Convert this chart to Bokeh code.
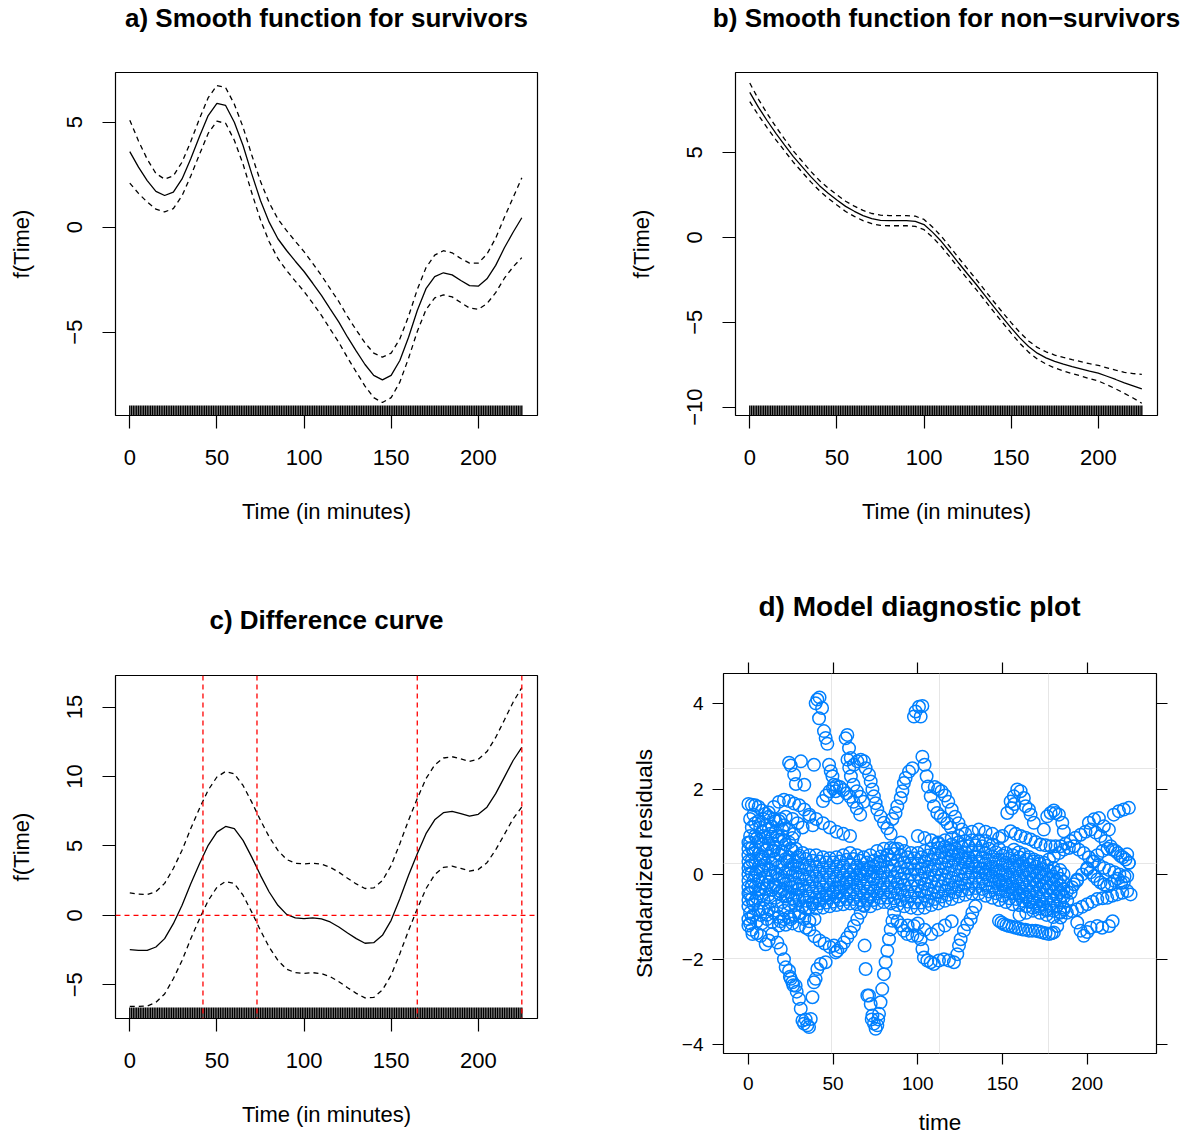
from bokeh.plotting import figure
from bokeh.layouts import column, row
from bokeh.models import Range1d, FixedTicker, LinearAxis, Span
from bokeh.embed import file_html
from bokeh.resources import INLINE

FONT = "Liberation Sans"

# ---------------- data: smooth functions (a, b, c) ----------------
time_grid = [0, 5, 10, 15, 20, 25, 30, 35, 40, 45, 50, 55, 60, 65, 70, 75, 80, 85, 90, 95,
             100, 105, 110, 115, 120, 125, 130, 135, 140, 145, 150, 155, 160, 165, 170, 175,
             180, 185, 190, 195, 200, 205, 210, 215, 220, 225]

surv_fit = [3.60, 2.86, 2.22, 1.71, 1.51, 1.67, 2.30, 3.26, 4.32, 5.32,
            5.90, 5.80, 5.00, 3.89, 2.54, 1.27, 0.24, -0.55, -1.11, -1.62,
            -2.11, -2.67, -3.25, -3.89, -4.52, -5.24, -5.90, -6.54, -7.06, -7.27,
            -7.06, -6.35, -5.24, -3.97, -2.93, -2.35, -2.17, -2.27, -2.54, -2.78,
            -2.81, -2.46, -1.82, -0.98, -0.24, 0.45]
surv_band = [1.50, 1.25, 1.02, 0.85, 0.78, 0.78, 0.80, 0.82, 0.85, 0.85,
             0.85, 0.85, 0.86, 0.88, 0.90, 0.92, 0.93, 0.94, 0.95, 0.95,
             0.95, 0.95, 0.95, 0.96, 0.97, 0.98, 1.00, 1.03, 1.06, 1.08,
             1.06, 1.03, 1.00, 1.00, 1.00, 1.02, 1.05, 1.05, 1.05, 1.07,
             1.10, 1.18, 1.30, 1.45, 1.65, 1.90]

nonsurv_fit = [8.53, 7.65, 6.86, 6.12, 5.43, 4.75, 4.16, 3.57, 3.04, 2.59,
               2.20, 1.82, 1.53, 1.28, 1.10, 1.00, 0.98, 0.98, 0.98, 0.94,
               0.75, 0.29, -0.25, -0.88, -1.53, -2.16, -2.78, -3.43, -4.08, -4.71,
               -5.33, -5.92, -6.43, -6.82, -7.10, -7.31, -7.47, -7.61, -7.74, -7.88,
               -8.00, -8.18, -8.37, -8.57, -8.74, -8.92]
nonsurv_band = [0.55, 0.47, 0.42, 0.38, 0.35, 0.33, 0.32, 0.31, 0.30, 0.30,
                0.30, 0.30, 0.30, 0.30, 0.30, 0.30, 0.30, 0.30, 0.30, 0.30,
                0.30, 0.30, 0.30, 0.30, 0.30, 0.30, 0.30, 0.30, 0.30, 0.30,
                0.31, 0.32, 0.33, 0.34, 0.36, 0.38, 0.40, 0.41, 0.42, 0.44,
                0.46, 0.50, 0.55, 0.62, 0.72, 0.85]

diff_fit = [-2.47, -2.52, -2.52, -2.28, -1.68, -0.60, 0.72, 2.28, 3.72, 5.04,
            5.99, 6.40, 6.24, 5.40, 4.19, 2.88, 1.68, 0.72, 0.07, -0.19,
            -0.24, -0.19, -0.26, -0.48, -0.84, -1.27, -1.68, -2.01, -1.97, -1.44,
            -0.36, 1.20, 2.88, 4.44, 5.88, 6.88, 7.39, 7.48, 7.32, 7.14,
            7.27, 7.79, 8.76, 9.95, 11.15, 12.10]
diff_band = [4.08, 4.04, 4.01, 3.99, 3.98, 3.97, 3.97, 3.97, 3.98, 3.98,
             3.97, 3.96, 3.95, 3.95, 3.96, 3.97, 3.97, 3.96, 3.95, 3.94,
             3.94, 3.94, 3.94, 3.94, 3.94, 3.94, 3.94, 3.94, 3.94, 3.94,
             3.95, 3.96, 3.97, 3.97, 3.96, 3.95, 3.94, 3.94, 3.94, 3.95,
             3.97, 4.00, 4.05, 4.12, 4.20, 4.30]

diff_sig_bounds = [42, 73, 165, 225]
diff_zero = [0]

rug_times = [0, 1, 2, 3, 4, 5, 6, 7, 8, 9, 10, 11, 12, 13, 14, 15, 16, 17, 18, 19,
             20, 21, 22, 23, 24, 25, 26, 27, 28, 29, 30, 31, 32, 33, 34, 35, 36, 37, 38, 39,
             40, 41, 42, 43, 44, 45, 46, 47, 48, 49, 50, 51, 52, 53, 54, 55, 56, 57, 58, 59,
             60, 61, 62, 63, 64, 65, 66, 67, 68, 69, 70, 71, 72, 73, 74, 75, 76, 77, 78, 79,
             80, 81, 82, 83, 84, 85, 86, 87, 88, 89, 90, 91, 92, 93, 94, 95, 96, 97, 98, 99,
             100, 101, 102, 103, 104, 105, 106, 107, 108, 109, 110, 111, 112, 113, 114, 115,
             116, 117, 118, 119, 120, 121, 122, 123, 124, 125, 126, 127, 128, 129, 130, 131,
             132, 133, 134, 135, 136, 137, 138, 139, 140, 141, 142, 143, 144, 145, 146, 147,
             148, 149, 150, 151, 152, 153, 154, 155, 156, 157, 158, 159, 160, 161, 162, 163,
             164, 165, 166, 167, 168, 169, 170, 171, 172, 173, 174, 175, 176, 177, 178, 179,
             180, 181, 182, 183, 184, 185, 186, 187, 188, 189, 190, 191, 192, 193, 194, 195,
             196, 197, 198, 199, 200, 201, 202, 203, 204, 205, 206, 207, 208, 209, 210, 211,
             212, 213, 214, 215, 216, 217, 218, 219, 220, 221, 222, 223, 224, 225]

time_ticks = [0, 50, 100, 150, 200]
surv_yticks = [-5, 0, 5]
nonsurv_yticks = [-10, -5, 0, 5]
diff_yticks = [-5, 0, 5, 10, 15]
resid_yticks = [-4, -2, 0, 2, 4]
resid_grid_x = [49, 113, 177]
resid_grid_y = [-1.97, 0.26, 2.49]

# ---------------- data: standardized residuals (d) ----------------
resid_core_time = [0, 4, 8, 12, 16, 20, 24, 28, 32, 36, 40, 44, 48, 52, 56, 60, 64, 68, 72, 76,
                   80, 84, 88, 92, 96, 100, 104, 108, 112, 116, 120, 124, 128, 132, 136, 140,
                   144, 148, 152, 156, 160, 164, 168, 172, 176, 180, 184]
resid_core_time2 = [2, 6, 10, 14, 18, 22, 26, 30, 34, 38, 42, 46, 50, 54, 58, 62, 66, 70, 74, 78,
                    82, 86, 90, 94, 98, 102, 106, 110, 114, 118, 122, 126, 130, 134, 138, 142,
                    146, 150, 154, 158, 162, 166, 170, 174, 178, 182, 186]
resid_core_a = [0.75, 0.90, 1.00, 1.05, 1.00, 0.90, 0.75, 0.60, 0.50, 0.45,
                0.45, 0.40, 0.38, 0.40, 0.45, 0.50, 0.45, 0.40, 0.45, 0.55,
                0.60, 0.62, 0.60, 0.55, 0.50, 0.50, 0.55, 0.60, 0.62, 0.65,
                0.70, 0.75, 0.78, 0.80, 0.80, 0.78, 0.70, 0.60, 0.50, 0.45,
                0.40, 0.35, 0.30, 0.25, 0.20, 0.15, 0.10]
resid_core_b = [0.45, 0.60, 0.70, 0.72, 0.65, 0.55, 0.40, 0.30, 0.25, 0.20,
                0.18, 0.15, 0.15, 0.18, 0.20, 0.22, 0.20, 0.15, 0.15, 0.25,
                0.30, 0.35, 0.32, 0.28, 0.25, 0.25, 0.30, 0.35, 0.38, 0.40,
                0.45, 0.50, 0.52, 0.55, 0.55, 0.50, 0.42, 0.35, 0.28, 0.22,
                0.18, 0.12, 0.08, 0.05, 0.00, -0.05, -0.10]
resid_core_c = [0.15, 0.30, 0.40, 0.42, 0.35, 0.25, 0.12, 0.05, 0.00, -0.05,
                -0.05, -0.08, -0.08, -0.05, -0.02, 0.00, -0.02, -0.05, -0.05, 0.02,
                0.05, 0.08, 0.05, 0.02, 0.00, 0.00, 0.05, 0.10, 0.12, 0.15,
                0.20, 0.25, 0.28, 0.30, 0.30, 0.25, 0.18, 0.10, 0.05, 0.00,
                -0.05, -0.08, -0.12, -0.15, -0.20, -0.22, -0.25]
resid_core_d = [-0.15, 0.00, 0.10, 0.12, 0.05, -0.05, -0.15, -0.20, -0.25, -0.28,
                -0.30, -0.30, -0.32, -0.30, -0.25, -0.22, -0.25, -0.28, -0.30, -0.22,
                -0.20, -0.18, -0.20, -0.25, -0.28, -0.28, -0.22, -0.18, -0.15, -0.12,
                -0.08, -0.02, 0.02, 0.05, 0.05, 0.00, -0.05, -0.12, -0.18, -0.22,
                -0.28, -0.30, -0.32, -0.35, -0.38, -0.40, -0.42]
resid_core_e = [-0.45, -0.30, -0.20, -0.18, -0.25, -0.35, -0.42, -0.48, -0.50, -0.52,
                -0.55, -0.55, -0.55, -0.52, -0.50, -0.45, -0.48, -0.50, -0.52, -0.45,
                -0.42, -0.42, -0.45, -0.50, -0.52, -0.55, -0.50, -0.45, -0.42, -0.38,
                -0.32, -0.28, -0.22, -0.20, -0.20, -0.25, -0.30, -0.35, -0.40, -0.45,
                -0.50, -0.52, -0.55, -0.58, -0.60, -0.62, -0.65]
resid_core_f = [-0.75, -0.62, -0.50, -0.48, -0.55, -0.65, -0.70, -0.72, -0.75, -0.78,
                -0.80, -0.78, -0.75, -0.72, -0.70, -0.68, -0.70, -0.72, -0.75, -0.68,
                -0.65, -0.68, -0.72, -0.75, -0.78, -0.80, -0.78, -0.72, -0.68, -0.62,
                -0.58, -0.52, -0.48, -0.45, -0.45, -0.50, -0.55, -0.60, -0.65, -0.70,
                -0.72, -0.75, -0.78, -0.80, -0.82, -0.85, -0.88]
# runs sampled between the runs above (times in resid_core_time2)
resid_core_ab = [0.62, 0.78, 0.86, 0.88, 0.82, 0.70, 0.56, 0.44, 0.36, 0.32,
                 0.30, 0.28, 0.28, 0.30, 0.34, 0.36, 0.32, 0.28, 0.32, 0.42,
                 0.46, 0.48, 0.44, 0.40, 0.38, 0.40, 0.44, 0.48, 0.52, 0.56,
                 0.60, 0.64, 0.66, 0.68, 0.66, 0.60, 0.52, 0.44, 0.38, 0.32,
                 0.26, 0.22, 0.18, 0.12, 0.08, 0.04, 0.00]
resid_core_bc = [0.32, 0.48, 0.56, 0.55, 0.48, 0.36, 0.24, 0.16, 0.12, 0.08,
                 0.06, 0.04, 0.05, 0.08, 0.10, 0.10, 0.08, 0.05, 0.06, 0.15,
                 0.18, 0.20, 0.17, 0.14, 0.12, 0.14, 0.18, 0.22, 0.26, 0.30,
                 0.34, 0.38, 0.40, 0.42, 0.40, 0.34, 0.28, 0.22, 0.15, 0.10,
                 0.05, 0.01, -0.03, -0.06, -0.10, -0.14, -0.18]
resid_core_cd = [0.02, 0.18, 0.26, 0.25, 0.18, 0.05, -0.02, -0.08, -0.12, -0.16,
                 -0.18, -0.20, -0.18, -0.15, -0.12, -0.12, -0.15, -0.18, -0.12, -0.08,
                 -0.06, -0.06, -0.10, -0.12, -0.14, -0.10, -0.06, -0.02, 0.00, 0.04,
                 0.10, 0.14, 0.16, 0.18, 0.14, 0.10, 0.04, -0.02, -0.08, -0.14,
                 -0.18, -0.20, -0.24, -0.28, -0.30, -0.32, -0.34]
resid_core_de = [-0.28, -0.14, -0.04, -0.04, -0.12, -0.22, -0.30, -0.34, -0.38, -0.40,
                 -0.42, -0.44, -0.42, -0.40, -0.36, -0.35, -0.38, -0.40, -0.38, -0.32,
                 -0.30, -0.32, -0.36, -0.40, -0.42, -0.40, -0.35, -0.30, -0.28, -0.24,
                 -0.18, -0.12, -0.08, -0.08, -0.10, -0.14, -0.20, -0.26, -0.30, -0.36,
                 -0.40, -0.42, -0.45, -0.48, -0.50, -0.52, -0.54]
resid_core_ef = [-0.58, -0.45, -0.34, -0.36, -0.44, -0.52, -0.56, -0.60, -0.62, -0.66,
                 -0.68, -0.66, -0.64, -0.60, -0.58, -0.58, -0.60, -0.62, -0.60, -0.55,
                 -0.54, -0.56, -0.60, -0.64, -0.66, -0.66, -0.62, -0.58, -0.52, -0.48,
                 -0.42, -0.38, -0.34, -0.32, -0.34, -0.40, -0.44, -0.50, -0.56, -0.58,
                 -0.62, -0.65, -0.68, -0.70, -0.72, -0.75, -0.78]

# (time, standardized residual) pairs of the runs outside the central band
resid_runs_left = [
    (0, 1.65), (2, 1.63), (4, 1.62), (6, 1.58), (8, 1.5), (10, 1.42), (3, 1.4), (1, 1.3),
    (6, 1.25), (9, 1.3), (12, 1.35), (15, 1.3), (18, 1.25), (21, 1.15), (24, 1.05), (27, 0.95),
    (12, 1.45), (15, 1.58), (18, 1.7), (21, 1.75), (24, 1.72), (27, 1.66), (30, 1.62),
    (33, 1.52), (36, 1.35), (38, 1.15), (16, 1.25), (19, 1.3), (22, 1.35), (26, 1.3),
    (29, 1.2), (32, 1.1),
    (0, -1.05), (3, -0.95), (6, -0.85), (9, -0.8), (12, -0.82), (15, -0.9), (18, -1.0),
    (21, -1.05), (24, -1.0), (27, -0.95), (30, -0.98), (33, -1.05), (36, -1.1), (39, -1.05),
    (0, 0.6), (0, 0.3), (0, 0.0), (0, -0.3), (0, -0.6), (1, -0.9), (1, -1.15), (2, -1.3),
    (0, -1.2), (2.4, -1.4), (5, -1.38), (7.3, -1.44), (10.2, -1.64), (12, -1.55), (14, -1.4),
    (24, 2.62), (25, 2.55), (27, 2.34), (28, 2.12), (31, 2.65), (33, 2.1), (38.7, 2.57),
    (39.7, 4.01), (40.7, 4.1), (42, 4.15), (43.5, 3.9), (41.7, 3.66), (44.6, 3.36),
    (45.6, 3.2), (46.6, 3.06), (47.6, 2.57), (48.6, 2.42), (49.6, 2.3), (50.5, 2.1),
    (51.5, 1.95), (52.5, 1.8),
    (44, 1.72), (46, 1.85), (48, 1.95), (50, 2.02), (52, 2.08), (54, 2.05), (56, 1.98),
    (58, 1.9), (60, 1.82), (62, 1.7), (64, 1.55), (66, 1.4),
    (36, 1.4), (40, 1.3), (44, 1.2), (48, 1.1), (52, 1.0), (56, 0.95), (60, 0.9),
    (17.1, -1.6), (19.1, -1.75), (21, -1.99), (22, -2.18), (24, -2.26), (25, -2.45),
    (26, -2.53), (27.9, -2.61), (29.9, -2.92), (30.9, -3.15), (31.9, -3.43), (32.8, -3.5),
    (34.8, -3.54), (36.8, -3.39), (37.8, -2.88), (38.7, -2.53), (39.7, -2.45), (40.7, -2.22),
    (42.7, -2.1), (45.6, -2.06), (24.5, -2.4), (26.5, -2.6), (28.5, -2.75), (33.8, -3.4),
    (35.8, -3.58),
    (30, -0.9), (34, -0.8), (38, -0.7), (42, -0.6), (46, -0.5), (50, -0.4), (54, -0.3),
    (58, -0.2), (62, -0.1), (66, 0.0), (70, 0.1), (74, 0.2), (78, 0.3), (82, 0.45),
    (86, 0.6), (90, 0.75),
    (1, 0.9), (2, 1.1), (4, 1.2), (7, 1.1), (10, 1.15), (14, 1.12), (20, 1.05), (26, 0.85),
    (2, -1.0), (5, -1.1), (8, -1.15), (11, -1.05), (14, -1.12), (18, -1.2), (22, -1.18),
    (26, -1.15), (30, -1.2), (34, -1.25),
    (1, 0.2), (1, -0.45), (1, 0.75), (3, 0.5), (3, -0.15), (3, -0.7), (5, 0.85), (5, 0.05),
    (5, -0.55), (7, 0.35), (7, -0.35), (7, -0.95), (9, 0.9), (9, 0.2), (9, -0.6), (11, 0.6),
    (11, -0.25), (11, -0.95), (13, 0.95), (13, 0.1), (13, -0.65), (15, 0.55), (15, -0.3),
    (17, 0.9), (17, 0.0), (17, -0.75), (19, 0.45), (19, -0.4), (19, -1.1), (21, 0.8),
    (21, -0.15), (21, -0.85), (23, 0.3), (23, -0.5), (25, 0.6), (25, -0.3), (25, -1.05),
    (27, 0.2), (27, -0.6), (29, 0.4), (29, -0.35),
]
resid_runs_middle = [
    (57.4, 3.19), (58.4, 3.27), (59.4, 2.96), (60.4, 2.73), (62.3, 2.57), (64.3, 2.65),
    (66.3, 2.69), (68.2, 2.65), (69.2, 2.49), (71.2, 2.34), (72.2, 2.18), (73.2, 1.99),
    (74.1, 1.83), (75.1, 1.67), (76.1, 1.52), (78, 1.36), (80, 1.21), (82, 1.08), (84, 0.95),
    (58.5, 2.69), (59.5, 2.5), (60.5, 2.3), (62, 2.1), (64, 1.95), (66, 1.82), (68, 1.7),
    (85, 1.3), (86.9, 1.44), (87.9, 1.6), (89.9, 1.79), (90.9, 1.95), (91.8, 2.14),
    (92.8, 2.26), (94.8, 2.41), (96.8, 2.49),
    (97.7, 3.7), (98.7, 3.82), (100.7, 3.93), (102.7, 3.95), (101.7, 3.7),
    (102.7, 2.76), (104, 2.57), (105.2, 2.3), (106, 2.06), (107.6, 1.83), (109.5, 1.6),
    (111.5, 1.44), (113.5, 1.36), (115.4, 1.3), (117.5, 1.2), (119.5, 1.1),
    (110, 2.05), (112, 2.0), (114, 1.95), (116, 1.85), (118, 1.7), (120, 1.52), (122, 1.35),
    (124, 1.2), (126, 1.05),
    (112, 0.75), (116, 0.8), (120, 0.85), (124, 0.9), (128, 0.95), (132, 1.0), (136, 1.05),
    (140, 1.0), (144, 0.95), (148, 0.85),
    (100, 0.9), (104, 0.85), (108, 0.8), (112, 0.72), (116, 0.65), (120, 0.55), (124, 0.45),
    (128, 0.35), (132, 0.25), (136, 0.15), (140, 0.05), (144, -0.05), (148, -0.15),
    (152, -0.25), (156, -0.35), (160, -0.45), (164, -0.55), (168, -0.65), (172, -0.75),
    (176, -0.85),
    (36, -1.3), (39, -1.45), (42, -1.55), (45, -1.62), (48, -1.7), (50.5, -1.67),
    (51.5, -1.83), (52.5, -1.79), (54.5, -1.71), (56.4, -1.6), (58.4, -1.48), (60.4, -1.36),
    (62.3, -1.21), (64.3, -1.05), (66.3, -0.9), (68.2, -0.74), (70.2, -0.58),
    (68.6, -1.67), (69.2, -2.22), (71.2, -2.84), (72.2, -3.04), (73.2, -3.31), (74.1, -3.5),
    (75.1, -3.62), (76.1, -3.54), (77.1, -3.27), (78, -3.0), (79, -2.69), (80, -2.34),
    (81, -2.06), (82, -1.79), (83, -1.52), (84, -1.29), (85, -1.09), (86, -0.9),
    (70.2, -2.84), (72.8, -3.4), (76.6, -3.4),
    (88, -1.1), (90, -1.2), (91.8, -1.32), (93.8, -1.4), (96.8, -1.44), (99.7, -1.44),
    (101.7, -1.52), (102.7, -1.75), (103.6, -1.95), (105.6, -2.02), (107.6, -2.06),
    (109.5, -2.1), (112.5, -2.02), (115.4, -1.99), (118.4, -2.02), (121.3, -2.06),
    (123.3, -1.87), (124.3, -1.67), (125.3, -1.52), (127.2, -1.32), (129.2, -1.17),
    (131.2, -1.05), (132.2, -0.9), (134, -0.75),
    (94, -1.2), (97.7, -1.21), (100, -1.15), (104, -1.3), (108, -1.4), (112, -1.3),
    (116, -1.2), (120, -1.1),
]
resid_runs_right = [
    (152.8, 1.44), (154.8, 1.71), (156.7, 1.83), (158.7, 1.99), (160.7, 1.95), (162.6, 1.79),
    (163.6, 1.6), (165.6, 1.52), (166.6, 1.4), (168.5, 1.21), (155.5, 1.55), (157, 1.65),
    (174.4, 1.05), (176.4, 1.36), (178.4, 1.44), (180.3, 1.5), (181.3, 1.44), (183.3, 1.4),
    (185.3, 1.21), (186.2, 1.01),
    (201, 1.21), (204, 1.29), (206.9, 1.32), (209.8, 1.13), (212.8, 1.05), (215.7, 1.4),
    (218.7, 1.48), (221.6, 1.52), (224.6, 1.56),
    (149.9, 0.9), (154.8, 1.01), (160.7, 0.9), (166.6, 0.82), (172.5, 0.7), (178.4, 0.66),
    (184.3, 0.66), (190.2, 0.78), (196.1, 0.93), (202, 1.05), (207.9, 0.9), (213.8, 0.66),
    (219.7, 0.43), (224.6, 0.27), (157.7, 0.95), (163.6, 0.86), (169.5, 0.76), (175.4, 0.68),
    (181.3, 0.66), (187.2, 0.72), (193.1, 0.86), (199, 1.0), (205, 0.98), (210.8, 0.78),
    (216.7, 0.55), (222.6, 0.35),
    (156.7, 0.58), (162.6, 0.47), (168.5, 0.35), (174.4, 0.27), (180.3, 0.43), (186.2, 0.58),
    (192.1, 0.66), (198, 0.5), (204, 0.3), (210, 0.15), (216, 0.05), (222, -0.05),
    (159.7, 0.52), (165.6, 0.41), (171.5, 0.3), (177.4, 0.35), (183.3, 0.5), (189.2, 0.62),
    (195, 0.58), (201, 0.4), (207, 0.22), (213, 0.1), (219, 0.0),
    (147.9, -1.09), (150.8, -1.17), (153.8, -1.21), (157.7, -1.25), (161.7, -1.29),
    (165.6, -1.32), (169.5, -1.32), (173.5, -1.36), (177.4, -1.4), (180.3, -1.36),
    (182.3, -1.21), (184.3, -1.01), (186.2, -0.82), (188.2, -0.62), (190.2, -0.43),
    (192.1, -0.23), (194.1, -0.12), (149.4, -1.13), (152.3, -1.19), (155.8, -1.23),
    (159.7, -1.27), (163.6, -1.3), (167.5, -1.32), (171.5, -1.34), (175.4, -1.38), (179, -1.38),
    (194.1, -1.13), (196.1, -1.32), (198, -1.44), (200, -1.35), (202, -1.25), (205.9, -1.21),
    (208.8, -1.25), (212.8, -1.21), (215, -1.1),
    (188, -0.9), (191, -0.86), (194, -0.82), (197, -0.76), (200, -0.7), (203, -0.64),
    (205.9, -0.58), (209, -0.56), (211.8, -0.55), (214.7, -0.5), (217.7, -0.47),
    (220.7, -0.43), (223.6, -0.39), (225.6, -0.47),
    (200, 0.12), (202, 0.05), (204, -0.04), (206, -0.12), (207.9, -0.19), (210, -0.24),
    (211.8, -0.27), (214, -0.22), (216, -0.15), (218, -0.1), (220, -0.2), (221.6, -0.19),
    (223.6, -0.04), (224.6, 0.27), (223.6, 0.47),
    (185, -0.5), (188, -0.4), (191, -0.3), (194, -0.15), (197, 0.0), (200, 0.15), (203, 0.3),
    (206, 0.45), (209, 0.55), (212, 0.6), (215, 0.58), (218, 0.5), (221, 0.4),
    (160, -0.95), (164, -0.9), (168, -0.85), (172, -0.9), (176, -0.95), (180, -1.0),
    (184, -0.9),
]


# ---------------- helpers ----------------
def minus_labels(ticks):
    return {t: str(t).replace("-", "\u2212") for t in ticks}


def style_axis(ax, ticks, font_size, tick_len, standoff, label, label_size, label_standoff):
    ax.ticker = FixedTicker(ticks=ticks)
    ax.major_label_overrides = minus_labels(ticks)
    ax.axis_line_color = None
    ax.major_tick_in = 0
    ax.major_tick_out = tick_len
    ax.major_tick_line_color = "black"
    ax.major_tick_line_width = 1.2
    ax.minor_tick_line_color = None
    ax.major_label_text_font = FONT
    ax.major_label_text_font_size = font_size
    ax.major_label_text_color = "black"
    ax.major_label_standoff = standoff
    ax.axis_label = label
    ax.axis_label_text_font = FONT
    ax.axis_label_text_font_size = label_size
    ax.axis_label_text_font_style = "normal"
    ax.axis_label_text_color = "black"
    ax.axis_label_standoff = label_standoff


def style_title(p, size, standoff, align="center", offset=0):
    p.title.align = align
    p.title.text_font = FONT
    p.title.text_font_size = size
    p.title.text_font_style = "bold"
    p.title.text_color = "black"
    p.title.standoff = standoff
    p.title.offset = offset


def add_title_gap(p, px):
    # blank panel (one invisible, unlabeled tick) between the frame and the title
    gap = LinearAxis(ticker=FixedTicker(ticks=[0]), axis_line_color=None,
                     major_tick_in=0, major_tick_out=px, major_tick_line_color=None,
                     minor_tick_in=0, minor_tick_out=0, minor_tick_line_color=None,
                     major_label_standoff=0, major_label_overrides={0: ""})
    p.add_layout(gap, "above")


FRAME_H = 343


def gam_panel(title, fit, band, yr, yticks, width, height, bl, br, bt, bb, rug_px,
              title_gap, extra=None):
    p = figure(width=width, height=height, output_backend="svg", toolbar_location=None,
               x_range=Range1d(-8.2, 234), y_range=Range1d(yr[0], yr[1]),
               min_border_left=bl, min_border_right=br, min_border_top=bt, min_border_bottom=bb,
               title=title)
    p.xgrid.visible = False
    p.ygrid.visible = False
    p.outline_line_color = "black"
    p.outline_line_width = 1.2
    p.outline_line_alpha = 1
    p.background_fill_color = "white"
    p.border_fill_color = "white"
    style_title(p, "26px", 0)
    style_axis(p.below[0], time_ticks, "22px", 13, 21, "Time (in minutes)", "22px", 31)
    style_axis(p.left[0], yticks, "22px", 13, 20, "f(Time)", "22px", 31)
    p.left[0].major_label_orientation = "vertical"
    add_title_gap(p, title_gap)

    if extra is not None:
        extra(p)

    upper = [f + b for f, b in zip(fit, band)]
    lower = [f - b for f, b in zip(fit, band)]
    p.line(time_grid, fit, line_color="black", line_width=1.3)
    p.line(time_grid, upper, line_color="black", line_width=1.3, line_dash="5 4")
    p.line(time_grid, lower, line_color="black", line_width=1.3, line_dash="5 4")

    per_px = (yr[1] - yr[0]) / FRAME_H
    n = len(rug_times)
    p.segment(x0=rug_times, x1=rug_times, y0=[yr[0]] * n, y1=[yr[0] + rug_px * per_px] * n,
              line_color="black", line_width=1.4)
    return p


def diff_lines(p):
    for v in diff_sig_bounds:
        p.add_layout(Span(location=v, dimension="height", line_color="#ff0000",
                          line_width=1.3, line_dash="5 4"))
    for v in diff_zero:
        p.add_layout(Span(location=v, dimension="width", line_color="#ff0000",
                          line_width=1.3, line_dash="5 4"))


pa = gam_panel("a) Smooth function for survivors", surv_fit, surv_band, (-8.97, 7.37),
               surv_yticks, 595, 575, 115, 58, 72, 160, 10, 40)
pb = gam_panel("b) Smooth function for non\u2212survivors", nonsurv_fit, nonsurv_band,
               (-10.49, 9.70), nonsurv_yticks, 596, 575, 140, 34, 72, 160, 10, 40)
pc = gam_panel("c) Difference curve", diff_fit, diff_band, (-7.43, 17.27), diff_yticks,
               595, 562, 115, 58, 100, 119, 11, 41, extra=diff_lines)

# ---------------- panel d ----------------
pd_ = figure(width=596, height=562, output_backend="svg", toolbar_location=None,
             x_range=Range1d(-14.7, 240.9), y_range=Range1d(-4.2, 4.71),
             min_border_left=128, min_border_right=35, min_border_top=98, min_border_bottom=82,
             title="d) Model diagnostic plot")
pd_.outline_line_color = "black"
pd_.outline_line_width = 1.2
pd_.outline_line_alpha = 1
pd_.background_fill_color = "white"
pd_.border_fill_color = "white"
style_title(pd_, "28px", 0, align="left", offset=35)
style_axis(pd_.below[0], time_ticks, "19px", 11, 12, "time", "22.5px", 17)
style_axis(pd_.left[0], resid_yticks, "19px", 11, 9, "Standardized residuals", "22.5px", 22)
pd_.xgrid.ticker = FixedTicker(ticks=resid_grid_x)
pd_.ygrid.ticker = FixedTicker(ticks=resid_grid_y)
pd_.xgrid.grid_line_color = "#e6e6e6"
pd_.ygrid.grid_line_color = "#e6e6e6"
pd_.xgrid.grid_line_width = 1
pd_.ygrid.grid_line_width = 1

top_axis = LinearAxis(ticker=FixedTicker(ticks=time_ticks), axis_line_color=None,
                      major_tick_in=0, major_tick_out=11, major_tick_line_width=1.2,
                      minor_tick_line_color=None, major_label_standoff=0,
                      major_label_overrides={t: "" for t in time_ticks})
right_axis = LinearAxis(ticker=FixedTicker(ticks=resid_yticks), axis_line_color=None,
                        major_tick_in=0, major_tick_out=11, major_tick_line_width=1.2,
                        minor_tick_line_color=None, major_label_standoff=0,
                        major_label_overrides={t: "" for t in resid_yticks})
pd_.add_layout(top_axis, "above")
pd_.add_layout(right_axis, "right")
add_title_gap(pd_, 41)

all_t = []
all_r = []
for times, series in ((resid_core_time, resid_core_a), (resid_core_time, resid_core_b),
                      (resid_core_time, resid_core_c), (resid_core_time, resid_core_d),
                      (resid_core_time, resid_core_e), (resid_core_time, resid_core_f),
                      (resid_core_time2, resid_core_ab), (resid_core_time2, resid_core_bc),
                      (resid_core_time2, resid_core_cd), (resid_core_time2, resid_core_de),
                      (resid_core_time2, resid_core_ef)):
    for t, r in zip(times, series):
        all_t.append(t)
        all_r.append(r)
for t, r in resid_runs_left + resid_runs_middle + resid_runs_right:
    all_t.append(t)
    all_r.append(r)
pd_.scatter(all_t, all_r, marker="circle", size=12.5, fill_color=None,
            line_color="#0080ff", line_width=1.5)

layout = column(row(pa, pb), row(column(pc), column(pd_)))
open("out.html", "w").write(file_html(layout, INLINE))
